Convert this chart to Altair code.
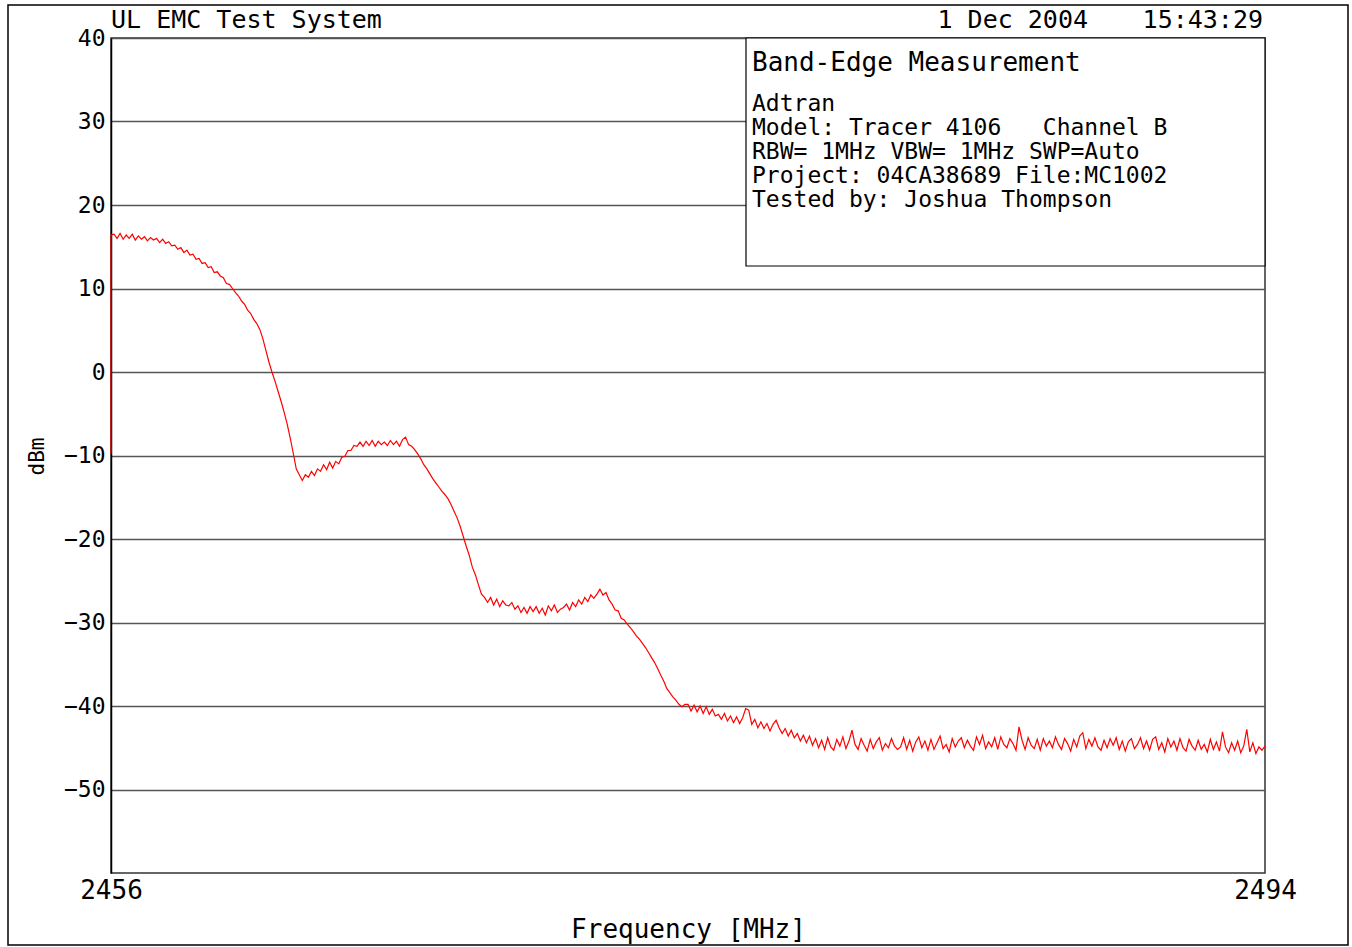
import altair as alt
import pandas as pd

# Sweep settings of the analyser trace
f_start = 2456.0
f_stop = 2494.0
n_points = 381

# Level the trace rises from at the first sweep point, dBm
start_level = -9.8

# Measured level per sweep point, dBm (one row per MHz)
level_dbm = [
    16.4, 16.5, 16.0, 16.6, 15.9, 16.4, 16.0, 16.5, 15.8, 16.3,
    15.9, 16.2, 15.7, 16.1, 15.8, 16.0, 15.5, 15.9, 15.4, 15.6,
    15.1, 15.2, 14.7, 14.9, 14.3, 14.6, 14.0, 14.1, 13.5, 13.6,
    13.0, 13.1, 12.5, 12.6, 11.9, 12.0, 11.5, 11.3, 10.6, 10.5,
    10.0, 9.5, 9.1, 8.5, 8.1, 7.4, 7.0, 6.3, 5.8, 5.1,
    4.0, 2.6, 1.2, 0.0, -1.1, -2.3, -3.5, -4.8, -6.2, -7.9,
    -9.7, -11.6, -12.3, -13.0, -12.3, -12.6, -11.9, -12.4, -11.6, -11.9,
    -11.1, -11.7, -10.8, -11.5, -10.7, -11.0, -10.2, -10.1, -9.4, -9.4,
    -8.8, -8.9, -8.4, -8.9, -8.3, -8.8, -8.2, -8.9, -8.3, -8.7,
    -8.4, -8.8, -8.2, -8.7, -8.3, -8.9, -8.1, -7.8, -8.7, -8.9,
    -9.3, -9.8, -10.4, -11.1, -11.6, -12.2, -12.8, -13.3, -13.8, -14.3,
    -14.7, -15.2, -15.9, -16.7, -17.5, -18.5, -19.7, -20.9, -22.0, -23.4,
    -24.3, -25.5, -26.6, -27.0, -27.6, -27.0, -27.9, -27.2, -28.1, -27.4,
    -27.9, -28.0, -27.6, -28.4, -28.0, -28.8, -28.2, -28.9, -28.1, -28.7,
    -28.1, -28.9, -28.3, -29.1, -28.0, -28.6, -27.9, -28.8, -28.4, -28.2,
    -27.8, -28.5, -27.6, -28.1, -27.3, -27.8, -27.0, -27.5, -26.7, -27.1,
    -26.6, -26.0, -26.7, -26.4, -27.3, -27.8, -28.5, -28.6, -29.5, -29.7,
    -30.2, -30.6, -31.1, -31.6, -32.0, -32.5, -33.0, -33.6, -34.2, -34.8,
    -35.5, -36.3, -37.0, -37.9, -38.4, -38.9, -39.3, -39.8, -40.1, -39.8,
    -39.8, -40.6, -39.9, -40.7, -40.0, -40.9, -40.1, -41.0, -40.4, -41.2,
    -41.0, -41.6, -40.9, -41.8, -41.2, -42.0, -41.3, -42.1, -41.4, -40.3,
    -40.5, -42.2, -41.6, -42.6, -41.9, -42.7, -42.1, -43.0, -42.2, -41.7,
    -42.6, -43.3, -42.7, -43.6, -42.9, -43.8, -43.3, -44.2, -43.5, -44.4,
    -43.6, -44.7, -43.9, -45.0, -44.1, -45.2, -43.8, -44.9, -45.3, -44.0,
    -44.8, -43.7, -45.1, -44.2, -42.9, -44.6, -45.2, -43.9, -44.7, -45.4,
    -44.0, -45.1, -44.3, -43.8, -45.3, -44.5, -45.0, -43.9, -44.8, -45.2,
    -44.9, -43.8, -45.2, -44.1, -45.4, -44.3, -43.7, -45.0, -44.2, -45.3,
    -44.0, -45.2, -44.4, -43.6, -45.1, -44.6, -45.5, -43.9, -44.9, -44.2,
    -43.8, -45.0, -44.1, -44.8, -45.3, -43.7, -44.6, -43.5, -45.1, -44.3,
    -44.9, -43.8, -45.2, -43.7, -44.6, -45.0, -43.9, -44.5, -45.3, -42.5,
    -44.1, -45.2, -43.8, -44.7, -45.1, -44.0, -45.3, -43.9, -44.8, -44.2,
    -45.0, -43.7, -44.6, -45.2, -43.9, -44.5, -45.4, -44.0, -44.9, -43.6,
    -43.2, -45.1, -44.0, -44.8, -43.8, -44.9, -45.3, -44.1, -45.0, -43.9,
    -44.7, -43.8, -45.2, -44.2, -45.4, -44.3, -43.9, -45.1, -44.6, -43.8,
    -45.1, -44.2, -45.3, -44.0, -43.7, -45.2, -44.4, -45.5, -43.9, -44.9,
    -44.2, -45.3, -43.9, -45.0, -45.4, -44.0, -44.8, -45.3, -44.1, -45.2,
    -44.6, -45.5, -44.0, -45.2, -44.3, -45.4, -43.1, -44.9, -45.6, -44.4,
    -45.3, -44.2, -45.6, -44.8, -42.8, -45.5, -44.4, -45.7, -44.9, -45.3,
    -44.8,
]

y_ticks = [-50, -40, -30, -20, -10, 0, 10, 20, 30, 40]
x_ticks = [2456, 2494]

NBSP = "\u00a0"
header_left = "UL EMC Test System"
header_date = "1 Dec 2004"
header_time = "15:43:29"
info_title = "Band-Edge Measurement"
info_lines = [
    "Adtran",
    "Model: Tracer 4106" + NBSP * 3 + "Channel B",
    "RBW= 1MHz VBW= 1MHz SWP=Auto",
    "Project: 04CA38689 File:MC1002",
    "Tested by: Joshua Thompson",
]

FONT = "DejaVu Sans Mono"
W, H = 1154, 835

step = (f_stop - f_start) / (n_points - 1)
freqs = [f_start] + [round(f_start + i * step, 3) for i in range(n_points)]
levels = [start_level] + level_dbm
trace = pd.DataFrame({
    "freq": freqs,
    "level": levels,
    "idx": list(range(len(freqs))),
})

one = pd.DataFrame({"k": [0]})

x_scale = alt.Scale(domain=[f_start, f_stop], nice=False, zero=False)
y_scale = alt.Scale(domain=[-60, 40], nice=False, zero=False)

line = alt.Chart(trace).mark_line(color="#ff0000", strokeWidth=1.2).encode(
    x=alt.X("freq:Q", scale=x_scale,
            axis=alt.Axis(values=x_ticks, format="d", grid=False, ticks=False,
                          domain=False, labelFlush=False, labelFontSize=26,
                          labelFont=FONT, labelColor="black", labelPadding=4,
                          title="Frequency [MHz]", titleFont=FONT,
                          titleFontSize=26, titleFontWeight="normal",
                          titleColor="black", titleX=577, titleY=64,
                          titleBaseline="alphabetic", titleAlign="center")),
    y=alt.Y("level:Q", scale=y_scale,
            axis=alt.Axis(values=y_ticks, grid=True, gridColor="#555555",
                          gridWidth=1.5, ticks=False, domain=True,
                          domainColor="black", domainWidth=1.5,
                          labelFontSize=23, labelFont=FONT, labelColor="black",
                          labelPadding=6, title="dBm", titleFont=FONT,
                          titleFontSize=21, titleFontWeight="normal",
                          titleColor="black", titleAngle=270, titleX=-68,
                          titleY=418, titleBaseline="alphabetic",
                          titleAlign="center")),
    order="idx:Q",
)

# White legend panel in the upper right of the plot
panel = alt.Chart(one).mark_rect(fill="white", stroke="black", strokeWidth=1.2).encode(
    x=alt.value(635), x2=alt.value(W), y=alt.value(0), y2=alt.value(228)
)

# Outer page frame
frame = alt.Chart(one).mark_rect(fill=None, stroke="black", strokeWidth=1.5).encode(
    x=alt.value(-103), x2=alt.value(1237), y=alt.value(-33), y2=alt.value(907)
)


def label(text, x, y, size, align="left"):
    return alt.Chart(one).mark_text(
        text=text, font=FONT, fontSize=size, align=align,
        baseline="alphabetic", color="black"
    ).encode(x=alt.value(x), y=alt.value(y))


texts = [
    label(header_left, 0, -10, 25),
    label(header_date, 977, -10, 25, "right"),
    label(header_time, 1152, -10, 25, "right"),
    label(info_title, 641, 33, 26),
]
for i, t in enumerate(info_lines):
    texts.append(label(t, 641, 73 + 24 * i, 23))

chart = alt.layer(panel, frame, line, *texts).properties(
    width=W, height=H,
    autosize=alt.AutoSizeParams(type="none"),
    padding={"left": 111, "top": 38, "right": 87, "bottom": 74},
    background="white",
).configure_view(stroke="#333333", strokeWidth=1.5)

chart.save("out.html", embed_options={"renderer": "svg", "actions": False})
